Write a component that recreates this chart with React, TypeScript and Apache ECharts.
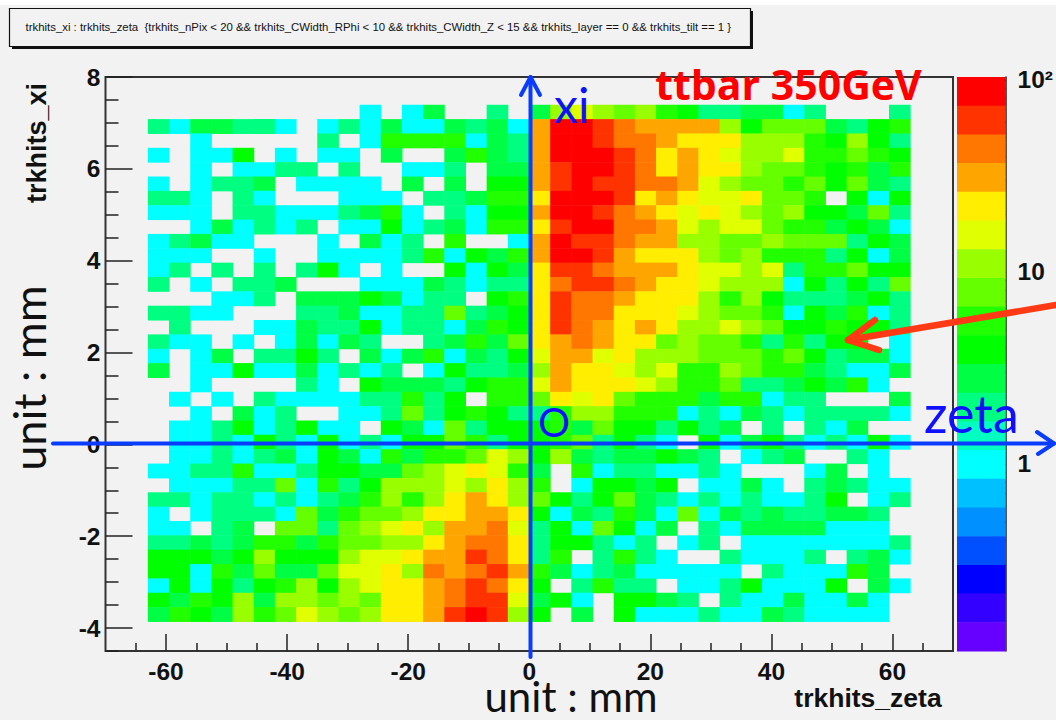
import React, { useEffect, useRef } from "react";
import * as echarts from "echarts";

const zetaEdges = [-63, 63];
const xiEdges = [-3.86, 7.39];
const binCount = 36;

// One string per xi bin, top row first; one letter per zeta bin. '.' = empty bin.
const binCodes: Record<string, number> = { c: 1, t: 2, s: 3, g: 4, h: 5, l: 8, m: 11, n: 15, y: 22, o: 31, p: 44, q: 62, r: 85 };

const negativeZetaRows = [
  "..........c.cs..t.", "tcssttc.ctcsccstsc", "..c.....t.chhhhcst", "c.ccg.c.cc.s..shst",
  "..c.cctt.t..cct.ss", "c.ctts.cccc.s.s.gg", "ttc.tc...ccc.ttshh", "ccc.ttccctshc.tcgg",
  "..csctct.ccgctschh", "ctscc...c.sct.h..c", "ccc..c..ccccthcgsh", "ct.t.t.tgc.c..gcgs",
  "t.c.tts...cccstctt", "...cct.sssgsctt.gh", "ttcc...ttscctt" + "ltsg", ".t...ccsttgcttcshg",
  "tcc.c.cscst..tshsl", "c.cs.ttgt.scshcstg", "s.ccgccsctct.cgtts", "..c....tc.gssstghh",
  ".c.c.tcccctthtg.hh", "..c.sct..cctltghgt", ".cctgctgcc.gscltgg", ".cctcgtcgctcgglhtg",
  ".cctctscgschshhlnm", "cctthcctggsslmnynh", ".cccttlchtgmmmnmym", "ttcttctctshmhmyoym",
  "c.ctttclshllmyyooy", "cc.ts.lltlmnymoopn", "ttstshhshllmmyoppy", "gggsgmgggmnnyooqpy",
  "ggchslsslnnympopqo", "cgcgtghmgmnyyopqpy", "gshgmsmmlmlyyopqqn", "shgsmhlnmlmyyoqrqm",
];

const positiveZetaRows = [
  "smnmlmhgttssct...t", "orrqpoooomglllstgh", "orrqppoyyymmmhgmgt", "orrrqpyoynmmnhhlhg",
  "oqrrqpyoyymllhghsh", "oqrqqpponmllhlglst", "yrrrqyoynnyllh.gcg", "orrqpoynynmlmggslt",
  "yqrrpponmnnlhhsgsc", "orqqpoommllmllltgs", "orrqoyyymlmhhhtgcs", "yqqpoooynnmnthhlgg",
  "ypqqpoyynmmmcgtgtl", "yqppoyyymhmgtttsgt", "yqppyyynmllhcgshct", "yqpoyoymmnmlgghggt",
  "yopoyylmllhthtgg.c", "noonymmmlllhlgtssc", "moyynmnhhmlhhstccs", "noyyynmhhlttsgshc.",
  "lynylhhhshhctt...s", "thmmhhhctcstcttttc", "ghslggtgts.t.tcs..", "ghltgtc.gcsgtctcgc",
  "gmstssgst.cts..tc.", "s.hcttcctc...cs.c.", "h.cggsg.ccsc.tstcc", "lgtglstctctcctg.ct",
  "gcsthsclcststtsst.", "tgclgcs.tcssssccc.", "tggtct.ct.ccccccct", "th.thtc..tccct.tsc",
  "hsctsccccc.tccchs.", "g.thtt.cctgcccg.sc", "sgc.ggst.tccsccsc.", "g.s.gccctccstcccc.",
];

const palette = [
  "#ff0000", "#ff3300", "#ff7700", "#ffa500", "#ffee00", "#e0ff00", "#99ff00", "#66ff00", "#22ff00", "#00ff00",
  "#00ff44", "#00ff80", "#00ffc0", "#00ffff", "#00c0ff", "#0090ff", "#0050ff", "#0000ff", "#3300ff", "#6600ff",
];
const logCountRange = [-0.974, 2.015];

const zetaTicks = [-60, -40, -20, 0, 20, 40, 60];
const zetaMinorTicks = [-65, -55, -50, -45, -35, -30, -25, -15, -10, -5, 5, 10, 15, 25, 30, 35, 45, 50, 55, 65];
const xiTicks = [-4, -2, 0, 2, 4, 6, 8];
const xiMinorTicks = [-4.5, -3.5, -3, -2.5, -1.5, -1, -0.5, 0.5, 1, 1.5, 2.5, 3, 3.5, 4.5, 5, 5.5, 6.5, 7, 7.5];
const colorMajorTicks = [1, 10, 100];
const colorMinorTicks = [0.2, 0.3, 0.4, 0.5, 0.6, 0.7, 0.8, 0.9, 2, 3, 4, 5, 6, 7, 8, 9, 20, 30, 40, 50, 60, 70, 80, 90];

const titleText = "trkhits_xi : trkhits_zeta  {trkhits_nPix < 20 && trkhits_CWidth_RPhi < 10 && trkhits_CWidth_Z < 15 && trkhits_layer == 0 && trkhits_tilt == 1 }";

const zetaBins = Array.from({ length: binCount }, (_, i) =>
  String(zetaEdges[0] + ((i + 0.5) * (zetaEdges[1] - zetaEdges[0])) / binCount));
const xiBins = Array.from({ length: binCount }, (_, i) =>
  (xiEdges[0] + ((i + 0.5) * (xiEdges[1] - xiEdges[0])) / binCount).toFixed(3));

const cells: number[][] = [];
negativeZetaRows.forEach((left, row) => {
  (left + positiveZetaRows[row]).split("").forEach((code, col) => {
    if (binCodes[code]) cells.push([col, binCount - 1 - row, binCodes[code]]);
  });
});

const bandStep = (logCountRange[1] - logCountRange[0]) / palette.length;
const bands = palette.map((_, i) => [logCountRange[1] - (i + 1) * bandStep, logCountRange[1] - i * bandStep, i]);
const pieces = bands.map(([lo, hi, i]) => ({ gte: Math.pow(10, lo), lt: Math.pow(10, hi), color: palette[i] }));

const FONT = "Liberation Sans";
const NOTE = "Lato";
const BLUE = "#0a3cff";
const INK = "#222";

const tickAxis = (pos: string, values: number[], len: number, isX: boolean, extent: number[], gridIndex: number, label: boolean) => ({
  type: "value",
  gridIndex,
  position: pos,
  min: extent[0],
  max: extent[1],
  splitLine: { show: false },
  axisLine: { show: false, onZero: false },
  axisTick: { show: true, inside: true, length: len, customValues: values, lineStyle: { color: INK, width: 1.5 } },
  axisLabel: label
    ? {
        show: true,
        customValues: values,
        margin: isX ? 8 : 5,
        fontFamily: FONT,
        fontWeight: "bold",
        fontSize: 24.5,
        color: "#111",
        hideOverlap: false,
        showMinLabel: true,
        showMaxLabel: true,
      }
    : { show: false },
});

const note = (text: string, x: number, y: number, size: number, fill: string, extra: object = {}, rotation = 0) => ({
  type: "text",
  z: 100,
  x,
  y,
  rotation,
  style: { text, fontFamily: NOTE, fontSize: size, fill, textVerticalAlign: "middle", ...extra },
});

const stroke = (points: number[][], color: string, width: number) => ({
  type: "polyline",
  z: 90,
  shape: { points },
  style: { stroke: color, lineWidth: width, fill: "none", lineCap: "round", lineJoin: "round" },
});

export default function App() {
  const ref = useRef<HTMLDivElement>(null);
  useEffect(() => {
    const chart = echarts.init(ref.current!, undefined, { renderer: "svg" });
    chart.setOption({
      animation: false,
      backgroundColor: "#ffffff",
      title: {
        text: titleText,
        left: 20.5,
        top: 16,
        z: 20,
        textStyle: { fontFamily: FONT, fontSize: 11.4, fontWeight: "normal", color: "#111" },
      },
      tooltip: { show: false },
      grid: [
        { left: 105.5, top: 77, width: 847.5, height: 574, show: true, borderColor: "#333", borderWidth: 2, backgroundColor: "transparent", containLabel: false },
        { left: 148.1, top: 105, width: 762.3, height: 516.7, containLabel: false },
        { left: 957, top: 77, width: 49.7, height: 574, containLabel: false },
      ],
      xAxis: [
        tickAxis("bottom", zetaTicks, 17, true, [-70, 70], 0, true),
        tickAxis("bottom", zetaMinorTicks, 8, true, [-70, 70], 0, false),
        { type: "category", gridIndex: 1, data: zetaBins, show: false },
        { type: "value", gridIndex: 2, min: 0, max: 1, show: false },
      ],
      yAxis: [
        tickAxis("left", xiTicks, 27, false, [-4.5, 8], 0, true),
        tickAxis("left", xiMinorTicks, 13, false, [-4.5, 8], 0, false),
        { type: "category", gridIndex: 1, data: xiBins, show: false },
        {
          type: "value",
          gridIndex: 2,
          position: "right",
          min: logCountRange[0],
          max: logCountRange[1],
          splitLine: { show: false },
          axisLine: { show: true, onZero: false, lineStyle: { color: "#222", width: 1.5 } },
          axisTick: { show: true, inside: true, length: 26, customValues: colorMajorTicks.map(Math.log10), lineStyle: { color: "#111", width: 1.2 } },
          axisLabel: {
            show: true,
            customValues: colorMajorTicks.map(Math.log10),
            margin: 12,
            fontFamily: FONT,
            fontWeight: "bold",
            fontSize: 24.5,
            color: "#111",
            formatter: (v: number) => (Math.round(v) === 0 ? "1" : Math.round(v) === 1 ? "10" : "10²"),
          },
        },
        {
          type: "value",
          gridIndex: 2,
          position: "right",
          min: logCountRange[0],
          max: logCountRange[1],
          splitLine: { show: false },
          axisLine: { show: false, onZero: false },
          axisTick: { show: true, inside: true, length: 14, customValues: colorMinorTicks.map(Math.log10), lineStyle: { color: "#111", width: 1.2 } },
          axisLabel: { show: false },
        },
      ],
      visualMap: {
        show: false,
        type: "piecewise",
        seriesIndex: 0,
        dimension: 2,
        pieces,
        outOfRange: { color: "transparent" },
      },
      series: [
        {
          type: "heatmap",
          xAxisIndex: 2,
          yAxisIndex: 2,
          data: cells,
          progressive: 0,
          itemStyle: { borderWidth: 0 },
          emphasis: { disabled: true },
        },
        {
          type: "custom",
          xAxisIndex: 3,
          yAxisIndex: 3,
          z: 1,
          silent: true,
          data: bands,
          encode: { y: [0, 1] },
          renderItem: (_: unknown, api: any) => {
            const a = api.coord([0, api.value(1)]);
            const b = api.coord([1, api.value(0)]);
            return {
              type: "rect",
              shape: { x: a[0], y: a[1], width: b[0] - a[0], height: b[1] - a[1] + 0.5 },
              style: { fill: palette[api.value(2)] },
            };
          },
        },
      ],
      graphic: [
        { type: "rect", z: -1, shape: { x: 0, y: 5, width: 1056, height: 715 }, style: { fill: "#f2f2f2" } },
        { type: "rect", z: 10, shape: { x: 12, y: 11, width: 741, height: 38 }, style: { fill: "#111" } },
        { type: "rect", z: 11, shape: { x: 9.5, y: 8.5, width: 741, height: 38 }, style: { fill: "#f2f2f2", stroke: "#111", lineWidth: 1.2 } },
        note("trkhits_xi", 37, 143, 27, "#111", { fontFamily: FONT, fontWeight: "bold", textAlign: "center" }, Math.PI / 2),
        note("unit : mm", 29, 378, 45, "#111", { textAlign: "center" }, Math.PI / 2),
        note("unit : mm", 571, 696, 42, "#111", { textAlign: "center" }),
        note("trkhits_zeta", 868, 698, 26.5, "#111", { fontFamily: FONT, fontWeight: "bold", textAlign: "center" }),
        note("ttbar 350GeV", 788.5, 84, 41, "#ff0000", { fontFamily: "Open Sans", fontWeight: "bold", textAlign: "center" }),
        note("xi", 554, 104, 48, "#1010ff"),
        note("O", 538, 422, 40, "#1010ff"),
        note("zeta", 924, 413, 52, "#1010ff"),
        stroke([[530.5, 657], [530.5, 77]], BLUE, 4),
        stroke([[521, 95], [530.5, 77], [540, 95]], BLUE, 4),
        stroke([[53, 443.5], [1054, 443.5]], BLUE, 4),
        stroke([[1037, 432], [1054, 443.5], [1038, 454]], BLUE, 4),
        stroke([[1056, 305], [848, 340]], "#ff3a14", 6.5),
        stroke([[875, 320], [848, 340], [879, 350]], "#ff3a14", 6.5),
      ],
    });
    return () => chart.dispose();
  }, []);
  return <div ref={ref} style={{ position: "absolute", left: 0, top: 0, width: 1056, height: 720 }} />;
}
